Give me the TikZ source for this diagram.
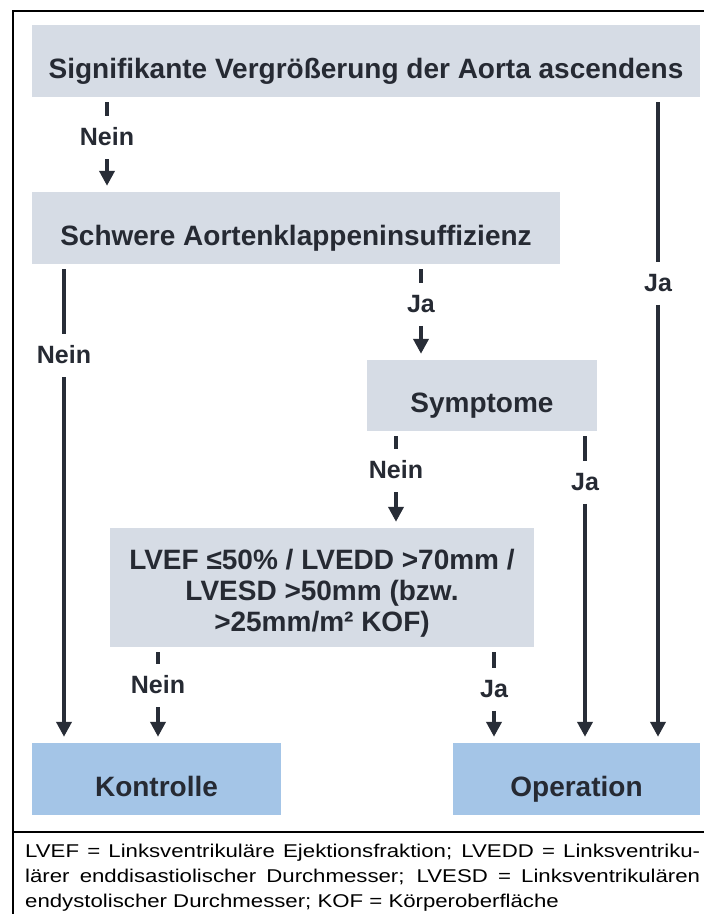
\documentclass[tikz,border=0pt]{standalone}
\usepackage{fontspec}
\setmainfont{Liberation Sans}
\newfontfamily\footfont{Liberation Sans}[FakeStretch=1.2]
\usetikzlibrary{arrows.meta}
\definecolor{boxgrey}{RGB}{214,220,229}
\definecolor{boxblue}{RGB}{164,197,231}
\definecolor{ink}{RGB}{38,42,51}
\definecolor{linec}{RGB}{40,45,55}
\begin{document}
\begin{tikzpicture}[x=1pt,y=-1pt,
  box/.style={draw=none, inner sep=0pt, font=\bfseries\fontsize{28}{31}\selectfont, text=ink, align=center},
  greybox/.style={box, fill=boxgrey},
  bluebox/.style={box, fill=boxblue},
  one/.style={text height=34pt, text depth=0pt},
  lbl/.style={inner sep=0pt, font=\bfseries\fontsize{25}{28}\selectfont, text=ink},
  tick/.style={draw=linec, line width=4.5pt, shorten <=5pt, shorten >=12pt},
  arr/.style={draw=linec, line width=4.5pt, shorten <=13pt, shorten >=6pt, -{Triangle[length=15pt,width=15pt]}},
  frame/.style={draw=black, line width=2pt}]
\useasboundingbox (0,0) rectangle (704,914);
\fill[white] (0,0) rectangle (704,914);

% frame
\coordinate (ftl) at (12.5,11);
\coordinate (fbl) at (12.5,914);
\coordinate (ftr) at (704,11);
\coordinate (sepl) at (12.5,832);
\coordinate (sepr) at (704,832);
\draw[frame] (fbl) -- (ftl) -- (ftr);
\draw[frame] (sepl) -- (sepr);

% boxes
\node[greybox, one, minimum width=668pt, minimum height=72pt] (b1) at (366,61) {Signifikante Vergrößerung der Aorta ascendens};
\node[greybox, one, minimum width=528pt, minimum height=72pt] (b2) at (296,228) {Schwere Aortenklappeninsuffizienz};
\node[greybox, one, minimum width=230pt, minimum height=71pt] (b3) at (482,395.5) {Symptome};
\node[greybox, minimum width=424pt, minimum height=119pt] (b4) at (322,587.5) {\rule{0pt}{31pt}LVEF ≤50\% / LVEDD >70mm /\\ LVESD >50mm (bzw.\\ >25mm/m² KOF)};
\node[bluebox, one, minimum width=249pt, minimum height=72pt] (b5) at (156.5,779) {Kontrolle};
\node[bluebox, one, minimum width=247pt, minimum height=72pt] (b6) at (576.5,779) {Operation};

% labels
\node[lbl] (l1) at (107,137) {Nein};
\node[lbl] (l2) at (658,283) {Ja};
\node[lbl] (l3) at (64,355) {Nein};
\node[lbl] (l4) at (421,304) {Ja};
\node[lbl] (l5) at (396,470) {Nein};
\node[lbl] (l6) at (585,482) {Ja};
\node[lbl] (l7) at (158,685) {Nein};
\node[lbl] (l8) at (494,689) {Ja};

% connectors
\draw[tick] (b1.south -| l1) -- (l1.north);
\draw[arr] (l1.south) -- (b2.north -| l1);
\draw[tick] (b1.south -| l2) -- (l2.north);
\draw[arr] (l2.south) -- (b6.north -| l2);
\draw[tick] (b2.south -| l3) -- (l3.north);
\draw[arr] (l3.south) -- (b5.north -| l3);
\draw[tick] (b2.south -| l4) -- (l4.north);
\draw[arr] (l4.south) -- (b3.north -| l4);
\draw[tick] (b3.south -| l5) -- (l5.north);
\draw[arr] (l5.south) -- (b4.north -| l5);
\draw[tick] (b3.south -| l6) -- (l6.north);
\draw[arr] (l6.south) -- (b6.north -| l6);
\draw[tick] (b4.south -| l7) -- (l7.north);
\draw[arr] (l7.south) -- (b5.north -| l7);
\draw[tick] (b4.south -| l8) -- (l8.north);
\draw[arr] (l8.south) -- (b6.north -| l8);

% footnote
\node[anchor=north west, inner sep=0pt, text width=675pt, align=justify,
      font=\footfont\fontsize{18.5}{25}\selectfont, text=black] (fn) at (25,843.5)
  {LVEF = Linksventrikuläre Ejektionsfraktion; LVEDD = Linksventriku-\linebreak lärer enddisastiolischer Durchmesser; LVESD = Linksventrikulären\linebreak endystolischer Durchmesser; KOF = Körperoberfläche};
\end{tikzpicture}
\end{document}
